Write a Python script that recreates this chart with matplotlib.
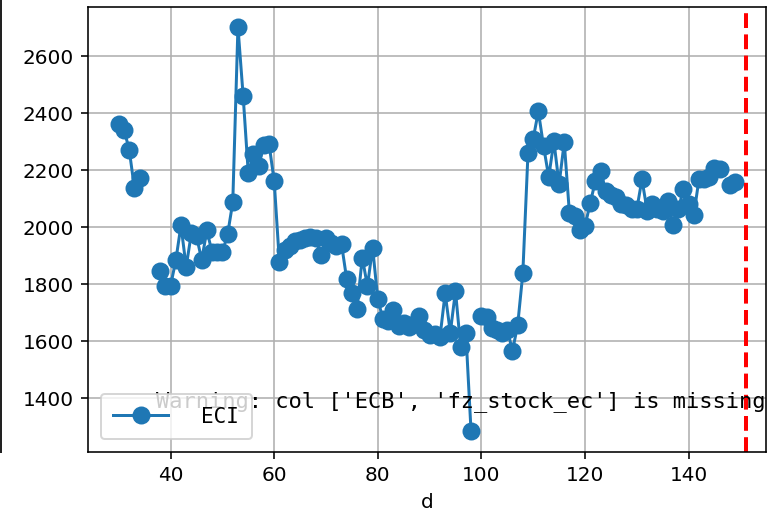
import numpy as np
import matplotlib
matplotlib.use("Agg")
import matplotlib.pyplot as plt
from matplotlib.lines import Line2D

nan = np.nan
d = list(range(30, 150))
eci = [
    2360, 2342, 2272, 2138, 2173,            # 30-34
    nan, nan, nan,                           # 35-37
    1846, 1795, 1795, 1883, 2006, 1860, 1978, 1968, 1885, 1988,  # 38-47
    1912, 1912, 1912, 1974, 2087, 2702, 2461, 2188, 2258, 2213,  # 48-57
    2288, 2292, 2161, 1878, 1918, 1935, 1950, 1955, 1962, 1965,  # 58-67
    1960, 1902, 1960, 1945, 1935, 1940, 1817, 1770, 1714, 1893,  # 68-77
    1793, 1928, 1747, 1677, 1672, 1708, 1653, 1665, 1648, 1660,  # 78-87
    1688, 1640, 1620, 1625, 1613, 1768, 1630, 1776, 1578, 1630,  # 88-97
    1285, nan, 1688, 1686, 1645, 1638, 1630, 1640, 1566, 1655,   # 98-107
    1838, 2260, 2310, 2406, 2284, 2176, 2301, 2150, 2298, 2048,  # 108-117
    2039, 1990, 2003, 2083, 2161, 2198, 2126, 2111, 2105, 2080,  # 118-127
    2078, 2065, 2062, 2167, 2058, 2082, 2065, 2056, 2091, 2009,  # 128-137
    2062, 2132, 2080, 2041, 2167, 2167, 2175, 2208, 2202, nan,   # 138-147
    2149, 2159,                                                  # 148-149
]
series_label = "ECI"
cutoff = 151
warning_text = "Warning: col ['ECB', 'fz_stock_ec'] is missing"
xticks = [40, 60, 80, 100, 120, 140]
yticks = [1400, 1600, 1800, 2000, 2200, 2400, 2600]

W, H, DPI = 769, 522, 144
fig = plt.figure(figsize=(W / DPI, H / DPI), dpi=DPI)
ax = fig.add_axes([88 / W, 1 - 452 / H, (766 - 88) / W, (452 - 7) / H])

ax.plot(d, eci, marker='o', markersize=8, linewidth=1.5, color='#1f77b4', label=series_label)
ax.axvline(cutoff, color='red', linestyle='--', linewidth=2)
ax.grid(True)
ax.set_xlim(24.05, 154.95)
ax.set_ylim(1211, 2772)
ax.set_xticks(xticks)
ax.set_yticks(yticks)
ax.set_xlabel('d')

ax.text(0.1, 0.1, warning_text, transform=ax.transAxes,
        family='DejaVu Sans Mono', fontsize=11)

ax.legend(loc='lower left', prop={'family': 'DejaVu Sans Mono', 'size': 10.5},
          handlelength=2.6, handletextpad=1.6, borderpad=0.6, borderaxespad=0.6)

fig.add_artist(Line2D([0.5 / W, 0.5 / W], [1 - 452 / H, 1], transform=fig.transFigure,
                      color='#222222', linewidth=1.0))

fig.savefig('out.png', dpi=DPI)
